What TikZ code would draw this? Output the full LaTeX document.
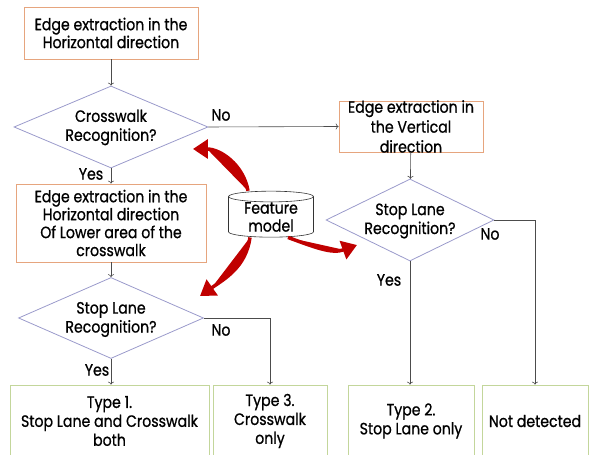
\documentclass[tikz,border=0pt]{standalone}
\usepackage{fontspec}
\setmainfont{Poppins}[FakeStretch=0.86, FakeBold=0.8]
\usetikzlibrary{arrows.meta,shapes.geometric,positioning}
\definecolor{boxorange}{HTML}{E6A57E}
\definecolor{decblue}{HTML}{9A9ACB}
\definecolor{resgreen}{HTML}{C3D69B}
\definecolor{featred}{HTML}{C00000}
\tikzset{
    %Define standard arrow tip
    >=To,
    %Define styles for boxes
    procbox/.style={
           rectangle,
           draw=boxorange, line width=0.8pt,
           inner sep=0pt,
           align=center,
           font=\fontsize{16.5}{18}\selectfont},
    decision/.style={
           diamond,
           draw=decblue, line width=0.8pt,
           inner sep=0pt},
    dectext/.style={
           align=center,
           inner sep=0pt,
           font=\fontsize{16.5}{19}\selectfont},
    result/.style={
           rectangle,
           draw=resgreen, line width=0.8pt,
           inner sep=0pt,
           align=center,
           minimum height=72bp,
           font=\fontsize{16.5}{19}\selectfont},
    database/.style={
           cylinder,
           shape border rotate=90,
           aspect=0.2,
           draw=black!80, line width=0.6pt,
           inner sep=0pt,
           align=center,
           font=\fontsize{16.5}{18}\selectfont},
    lbl/.style={font=\fontsize{16.5}{18}\selectfont},
    % Define arrow styles
    pil/.style={
           ->,
           draw=black!70,
           line width=0.6pt},
    featarrow/.style={
           -{Triangle[length=15pt,width=19pt]},
           draw=featred, fill=featred,
           line width=3.5pt}
}
\begin{document}
\begin{tikzpicture}[x=1bp,y=1bp]
\useasboundingbox (0,0) rectangle (589,455);
% left column
\node[procbox, minimum width=174bp, minimum height=52bp] (hor) at (111,422) {Edge extraction in the\\Horizontal direction};
\node[decision, minimum width=194bp, minimum height=82bp] (cross) at (111,328) {};
\node[dectext] (crosstxt) at ([yshift=-0.5bp]cross) {Crosswalk\\Recognition?};
\node[procbox, minimum width=190bp, minimum height=78bp] (lower) at (111,232) {Edge extraction in the\\Horizontal direction\\Of Lower area of the\\crosswalk};
\node[decision, minimum width=185bp, minimum height=81bp] (stopl) at (111,137) {};
\node[dectext] (stopltxt) at ([yshift=-1.5bp]stopl) {Stop Lane\\Recognition?};
% right column
\node[procbox, minimum width=144bp, minimum height=51bp, inner ysep=-4pt, font=\fontsize{16.5}{20}\selectfont] (vert) at (411,328.5) {Edge extraction in\\the Vertical\\direction};
\node[decision, minimum width=168bp, minimum height=82bp] (stopr) at (410,235) {};
\node[dectext] (stoprtxt) at ([yshift=-1bp]stopr) {Stop Lane\\Recognition?};
% feature model
\node[database, minimum width=85bp, minimum height=46bp] (feat) at (271,238) {Feature\\model};
% results
\node[result, minimum width=199bp] (type1) at (109.5,34) {Type 1.\\Stop Lane and Crosswalk\\both};
\node[result, minimum width=114bp] (type3) at (270,34) {Type 3.\\Crosswalk\\only};
\node[result, minimum width=126bp] (type2) at (411,34) {Type 2.\\Stop Lane only};
\node[result, minimum width=106bp] (none) at (535,34) {Not detected};
% connectors
\draw[pil] (hor) -- (cross);
\draw[pil] (cross) -- (lower);
\draw[pil] (cross.east) -- (vert.west);
\draw[pil] (lower) -- (stopl);
\draw[pil] (stopl.south) -- (stopl.south |- type1.north);
\draw[pil] (stopl.east) -| (type3.north);
\draw[pil] (vert) -- (stopr);
\draw[pil] (stopr.south) -- (stopr.south |- type2.north);
\draw[pil] (stopr.east) -| (none.north);
% labels
\node[lbl] (no1) at (221,340) {No};
\node[lbl] (yes1) at (91,281) {Yes};
\node[lbl] (no2) at (490,221) {No};
\node[lbl] (yes2) at (389,175) {Yes};
\node[lbl] (no3) at (221,125) {No};
\node[lbl] (yes3) at (97,85) {Yes};
% feature model arrows
\coordinate (tip1) at (193,306);
\coordinate (tip2) at (200,159);
\coordinate (tip3) at (357,210);
\draw[featarrow] ([xshift=-23bp]feat.north) to[out=100,in=0] (tip1);
\draw[featarrow] ([xshift=-21bp]feat.south) to[out=262,in=35] (tip2);
\draw[featarrow] ([xshift=17bp]feat.south) to[out=-20,in=200] (tip3);
\end{tikzpicture}
\end{document}
